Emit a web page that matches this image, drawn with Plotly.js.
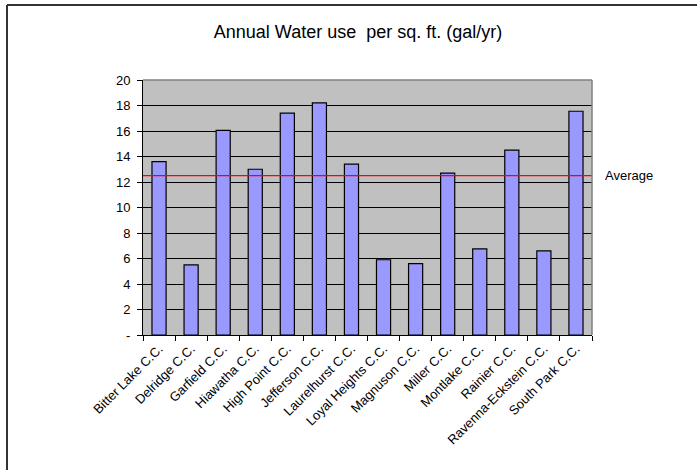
<!DOCTYPE html>
<html>
<head>
<meta charset="utf-8">
<script src="https://cdn.plot.ly/plotly-3.0.1.min.js"></script>
<style>html,body{margin:0;padding:0;background:#fff;}#chart{width:697px;height:470px;}</style>
</head>
<body>
<div id="chart"></div>
<script>
const categories = ["Bitter Lake C.C.","Delridge C.C.","Garfield C.C.","Hiawatha C.C.","High Point C.C.","Jefferson C.C.","Laurelhurst C.C.","Loyal Heights C.C.","Magnuson C.C.","Miller C.C.","Montlake C.C.","Rainier C.C.","Ravenna-Eckstein C.C.","South Park C.C."];
const waterUse = [13.6, 5.5, 16.05, 13.0, 17.4, 18.2, 13.4, 5.9, 5.6, 12.7, 6.75, 14.5, 6.6, 17.55];
const averageValue = 12.5;
const yTickVals = [0, 2, 4, 6, 8, 10, 12, 14, 16, 18, 20];
const yTickText = ["-", "2", "4", "6", "8", "10", "12", "14", "16", "18", "20"];

const W = 697, H = 470;
const m = {l: 143, r: 105, t: 80, b: 135};
const pw = W - m.l - m.r, ph = H - m.t - m.b;
const px = v => (v - m.l) / pw;
const py = v => (H - m.b - v) / ph;
const FONT = 'Arial, Liberation Sans, sans-serif';

const trace = {
  type: 'bar',
  x: categories,
  y: waterUse,
  marker: {color: '#9999FF', line: {color: '#000000', width: 1.2}},
  hoverinfo: 'x+y'
};

const layout = {
  width: W, height: H,
  margin: m,
  paper_bgcolor: '#FFFFFF',
  plot_bgcolor: '#C0C0C0',
  showlegend: false,
  bargap: 0.56,
  font: {family: FONT, color: '#000', size: 13},
  title: {
    text: 'Annual Water use\u00A0 per sq. ft. (gal/yr)',
    font: {size: 18, family: FONT, color: '#000'},
    x: 358 / W, xref: 'container', xanchor: 'center',
    y: 1 - 32 / H, yref: 'container', yanchor: 'middle'
  },
  xaxis: {
    type: 'category',
    tickangle: -45,
    ticks: 'outside', ticklen: 5, tickcolor: '#000', tickwidth: 1,
    tickson: 'boundaries',
    showgrid: false,
    showline: true, linecolor: '#000', linewidth: 1,
    tickfont: {size: 13, family: FONT, color: '#000'},
    zeroline: false
  },
  yaxis: {
    range: [0, 20],
    tickvals: yTickVals, ticktext: yTickText,
    ticks: 'outside', ticklen: 5, tickcolor: '#000', tickwidth: 1,
    ticklabelstandoff: 4,
    showgrid: true, gridcolor: '#000000', gridwidth: 1,
    showline: true, linecolor: '#000', linewidth: 1,
    zeroline: false,
    tickfont: {size: 13, family: FONT, color: '#000'}
  },
  shapes: [
    {type: 'line', xref: 'paper', yref: 'y', x0: 0, x1: 1, y0: averageValue, y1: averageValue,
     line: {color: '#FF0000', width: 1.2}, layer: 'above'},
    {type: 'line', xref: 'paper', yref: 'paper', x0: 0, x1: 1, y0: 1, y1: 1,
     line: {color: '#808080', width: 1.5}, layer: 'above'},
    {type: 'line', xref: 'paper', yref: 'paper', x0: 1, x1: 1, y0: 0, y1: 1,
     line: {color: '#808080', width: 1.5}, layer: 'above'},
    {type: 'line', xref: 'paper', yref: 'paper', x0: px(7), x1: px(697), y0: py(5), y1: py(5),
     line: {color: '#333333', width: 2}},
    {type: 'line', xref: 'paper', yref: 'paper', x0: px(7), x1: px(7), y0: py(5), y1: py(470),
     line: {color: '#333333', width: 2}}
  ],
  annotations: [
    {xref: 'paper', yref: 'y', x: px(603), y: averageValue, text: 'Average', showarrow: false,
     xanchor: 'left', yanchor: 'middle', font: {size: 13, family: FONT, color: '#000'}}
  ]
};

Plotly.newPlot('chart', [trace], layout, {displayModeBar: false, staticPlot: true});
</script>
</body>
</html>
